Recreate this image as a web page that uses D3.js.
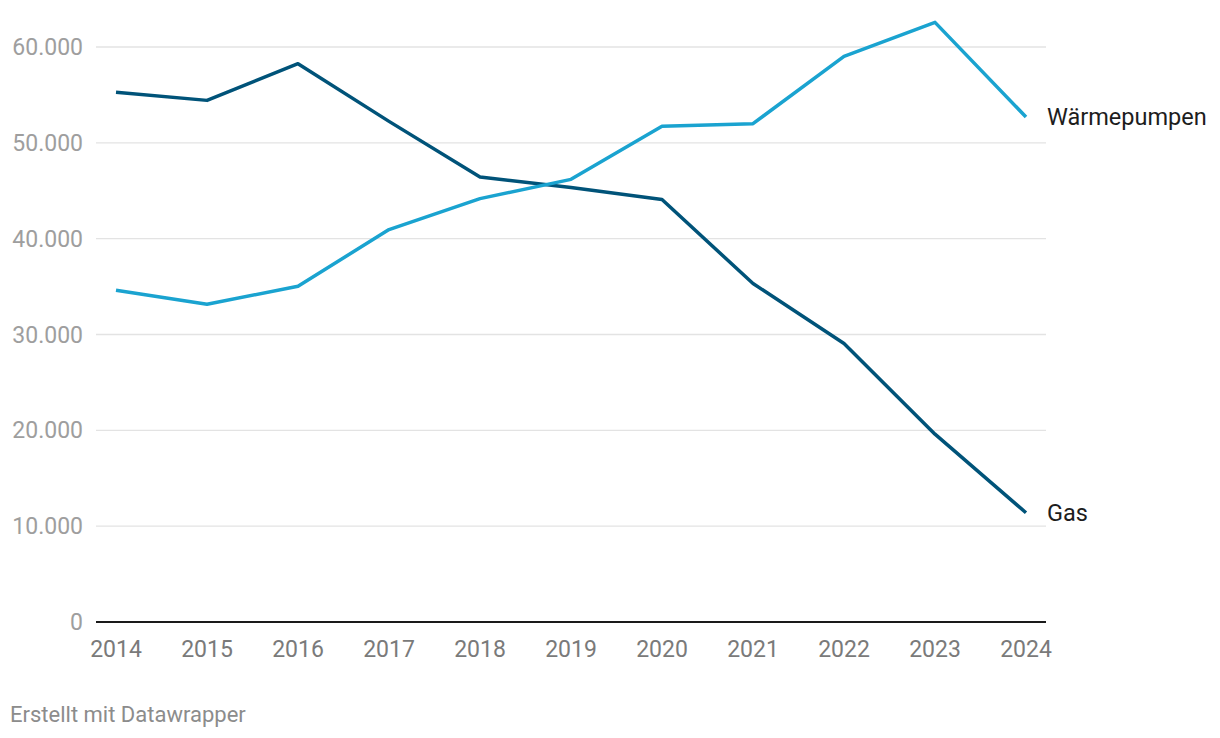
<!DOCTYPE html>
<html>
<head>
<meta charset="utf-8">
<script src="https://cdn.jsdelivr.net/npm/d3@7"></script>
<style>
  body { margin: 0; background: #fff; font-family: Roboto, sans-serif; }
  svg text { font-family: Roboto, sans-serif; }
</style>
</head>
<body>
<svg width="1220" height="738"></svg>
<script>
const years = [2014, 2015, 2016, 2017, 2018, 2019, 2020, 2021, 2022, 2023, 2024];
const gas = [55270, 54430, 58260, 52240, 46430, 45330, 44080, 35320, 29060, 19600, 11400];
const waermepumpen = [34620, 33160, 35040, 40950, 44180, 46190, 51720, 52000, 59020, 62570, 52690];
const yTicks = [0, 10000, 20000, 30000, 40000, 50000, 60000];

const svg = d3.select("svg");
const margin = {top: 47, left: 96, right: 174, bottom: 116};
const width = 1220 - margin.left - margin.right,
      height = 738 - margin.top - margin.bottom;

const g = svg.append("g").attr("transform", `translate(${margin.left},${margin.top})`);

const x = d3.scaleLinear().domain([2014, 2024]).range([20, width - 20]);
const y = d3.scaleLinear().domain([0, 60000]).range([height, 0]);

const fmt = d3.formatLocale({decimal: ",", thousands: ".", grouping: [3], currency: ["", "€"]}).format(",d");

// grid
g.selectAll(".grid").data(yTicks.filter(d => d > 0)).enter().append("line")
    .attr("x1", 0).attr("x2", width)
    .attr("y1", d => y(d)).attr("y2", d => y(d))
    .attr("stroke", "#e3e3e3").attr("stroke-width", 1.3);

// y labels
g.selectAll(".ylab").data(yTicks).enter().append("text")
    .attr("x", -13).attr("y", d => y(d)).attr("dy", "0.35em")
    .attr("text-anchor", "end")
    .attr("fill", "#9e9e9e").attr("font-size", 23)
    .text(d => fmt(d));

// baseline
g.append("line").attr("x1", 0).attr("x2", width)
    .attr("y1", y(0)).attr("y2", y(0))
    .attr("stroke", "#1a1a1a").attr("stroke-width", 2);

// x labels
g.selectAll(".xlab").data(years).enter().append("text")
    .attr("x", d => x(d)).attr("y", y(0) + 35)
    .attr("text-anchor", "middle")
    .attr("fill", "#7a7a7a").attr("font-size", 23)
    .text(d => d);

const line = d3.line().x((d, i) => x(years[i])).y(d => y(d));

const series = [
  {name: "Gas", values: gas, color: "#005379"},
  {name: "Wärmepumpen", values: waermepumpen, color: "#1aa3d0"}
];

g.selectAll(".series").data(series).enter().append("path")
    .attr("d", d => line(d.values))
    .attr("fill", "none")
    .attr("stroke", d => d.color)
    .attr("stroke-width", 3.5)
    .attr("stroke-linejoin", "round");

g.selectAll(".lab").data(series).enter().append("text")
    .attr("x", x(2024) + 21)
    .attr("y", d => y(d.values[d.values.length - 1]))
    .attr("dy", "0.35em")
    .attr("fill", "#1d1d1d").attr("font-size", 23.5)
    .text(d => d.name);

svg.append("text").attr("x", 10).attr("y", 722)
    .attr("fill", "#8c8c8c").attr("font-size", 22)
    .text("Erstellt mit Datawrapper");
</script>
</body>
</html>
